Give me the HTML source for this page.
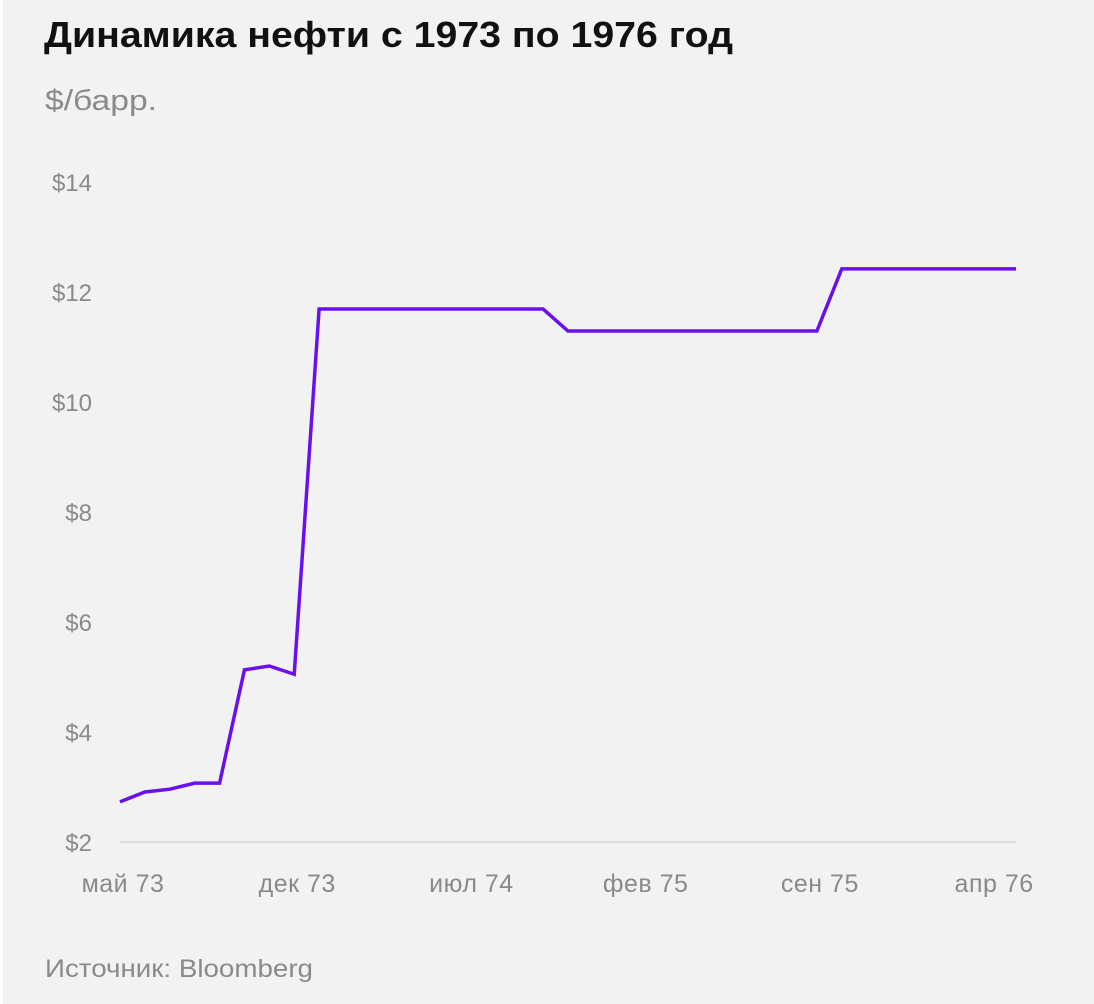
<!DOCTYPE html>
<html><head><meta charset="utf-8">
<style>
body{margin:0;background:#fff;}
#wrap{position:absolute;left:3px;top:0;width:1091px;height:1004px;background:#f2f2f2;}
svg{position:absolute;left:0;top:0;}
text{font-family:"Liberation Sans",sans-serif;}
</style></head>
<body>
<div id="wrap"></div>
<svg id="chart" width="1094" height="1004">
<text x="44" y="47" font-size="36" font-weight="bold" fill="#111" textLength="689" lengthAdjust="spacingAndGlyphs">Динамика нефти с 1973 по 1976 год</text>
<text x="45" y="110" font-size="29" fill="#8a8a8a" textLength="112" lengthAdjust="spacingAndGlyphs">$/барр.</text>
<text x="45" y="977" font-size="25" fill="#8a8a8a" textLength="268" lengthAdjust="spacingAndGlyphs">Источник: Bloomberg</text>
</svg>
<script>
const yTicks=[2,4,6,8,10,12,14];
const xTickLabels=["май 73","дек 73","июл 74","фев 75","сен 75","апр 76"];
const xTickMonths=[0,7,14,21,28,35];
const prices=[2.73,2.91,2.96,3.07,3.07,5.13,5.20,5.05,11.69,11.69,11.69,11.69,11.69,11.69,11.69,11.69,11.69,11.69,11.29,11.29,11.29,11.29,11.29,11.29,11.29,11.29,11.29,11.29,11.29,12.42,12.42,12.42,12.42,12.42,12.42,12.42,12.42];
const NS="http://www.w3.org/2000/svg";
const svg=document.getElementById('chart');
const x=m=>120+m*(896/36);
const y=v=>842-(v-2)*55;
function mk(t,a){const e=document.createElementNS(NS,t);for(const k in a)e.setAttribute(k,a[k]);svg.appendChild(e);return e;}
const base=mk('line',{x1:120,x2:1016,y1:842,y2:842,stroke:'#d6d6d6','stroke-width':1.5});


yTicks.forEach(v=>{const t=mk('text',{x:92,y:y(v)+9,'text-anchor':'end','font-size':24,fill:'#8a8a8a'});t.textContent='$'+v;

});
xTickLabels.forEach((l,i)=>{const t=mk('text',{x:x(xTickMonths[i])+3,y:892,'text-anchor':'middle','font-size':25,fill:'#8a8a8a','letter-spacing':0.5});t.textContent=l;

});
const p=mk('polyline',{points:prices.map((v,i)=>x(i)+','+y(v)).join(' '),fill:'none',stroke:'#6a0ff0','stroke-width':3.5,'stroke-linejoin':'miter'});


</script>
</body></html>
